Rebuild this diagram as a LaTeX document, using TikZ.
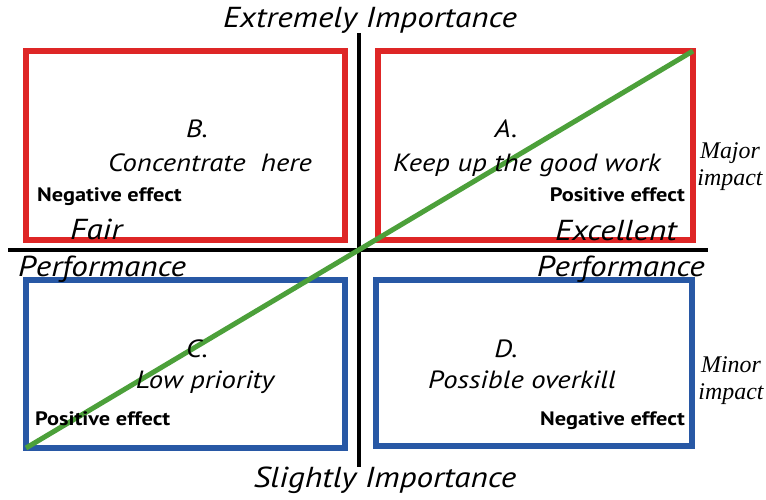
\documentclass[tikz,border=0pt]{standalone}
\usepackage{fontspec}
\setmainfont{PT Sans}[FakeStretch=1.15]
\newfontfamily\timesfont{Liberation Serif}
\definecolor{qred}{RGB}{222,38,38}
\definecolor{qblue}{RGB}{40,88,165}
\definecolor{qgreen}{RGB}{76,160,58}
\begin{document}
\begin{tikzpicture}[x=1bp,y=-1bp,
  quad/.style={draw, line width=6bp, inner sep=0pt, outer sep=0pt},
  redquad/.style={quad, draw=qred},
  bluequad/.style={quad, draw=qblue},
  big/.style={font=\fontsize{25}{30}\selectfont\itshape, inner sep=0pt, anchor=base},
  axlab/.style={font=\fontsize{29}{34}\selectfont\itshape, inner sep=0pt, anchor=base},
  eff/.style={font=\fontsize{19.5}{22}\selectfont\bfseries, inner sep=0pt, anchor=base},
  imp/.style={font=\fontsize{24}{27}\selectfont\timesfont\itshape, align=center, inner sep=0pt},
  axis/.style={line width=4bp, black},
  trend/.style={line width=5bp, qgreen}
]
\useasboundingbox (0,0) rectangle (766,500);
% quadrant boxes
\node[redquad, minimum width=319bp, minimum height=189bp] (B) at (185.5,145.5) {};
\node[redquad, minimum width=315bp, minimum height=189bp] (A) at (535.5,145.5) {};
\node[bluequad, minimum width=319bp, minimum height=168bp] (C) at (185.5,364) {};
\node[bluequad, minimum width=316bp, minimum height=166bp] (D) at (534,363) {};
% axes
\coordinate (vtop) at (359,33);
\coordinate (vbot) at (359,467);
\coordinate (hleft) at (8,250);
\coordinate (hright) at (708,250);
\draw[axis] (vtop) -- (vbot);
\draw[axis] (hleft) -- (hright);
% trend line
\draw[trend] (C.south west) -- (A.north east);
% axis labels
\node[axlab] (ext) at (370,28) {Extremely Importance};
\node[axlab] (sli) at (385,487) {Slightly Importance};
\node[axlab, anchor=base west] (fair) at (70,240) {Fair};
\node[axlab, anchor=base east] (exc) at (677,241) {Excellent};
\node[axlab, anchor=base west] (perfl) at (18,277) {Performance};
\node[axlab, anchor=base east] (perfr) at (705,277) {Performance};
% quadrant texts
\node[big] (Bl) at (197,138) {B.};
\node[big] (Bt) at (210,172) {Concentrate\ \ here};
\node[eff, anchor=base west] (Be) at (37,202) {Negative effect};
\node[big] (Al) at (506,138) {A.};
\node[big] (At) at (527,172) {Keep up the good work};
\node[eff, anchor=base east] (Ae) at (685,202) {Positive effect};
\node[big] (Cl) at (197,357) {C.};
\node[big] (Ct) at (205,388) {Low priority};
\node[eff, anchor=base west] (Ce) at (35,425) {Positive effect};
\node[big] (Dl) at (506,357) {D.};
\node[big] (Dt) at (522,388) {Possible overkill};
\node[eff, anchor=base east] (De) at (685,425) {Negative effect};
% impact labels
\node[imp] (maj) at (730,167) {Major\\impact};
\node[imp] (min) at (731,381) {Minor\\impact};
\end{tikzpicture}
\end{document}
